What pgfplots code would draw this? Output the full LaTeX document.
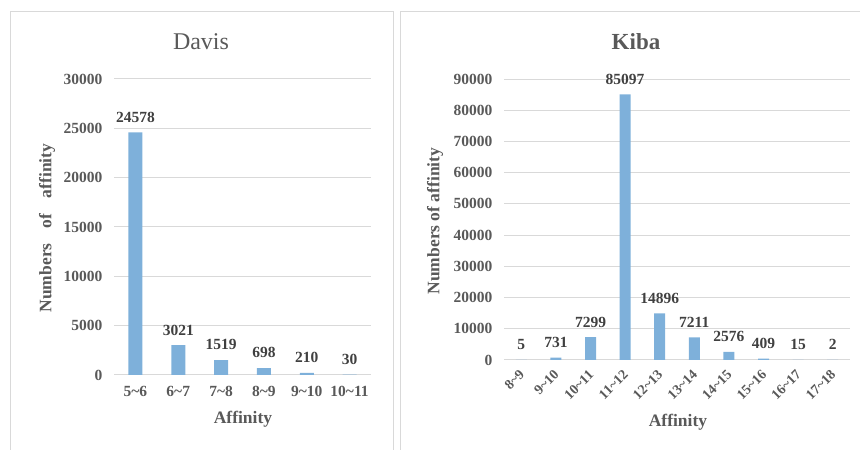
\documentclass[border=0pt]{standalone}
\usepackage{pgfplots}
\pgfplotsset{compat=1.18}
\usepackage{fontspec}
\setmainfont{Liberation Serif}
\definecolor{txt}{HTML}{595959}
\definecolor{val}{HTML}{404040}
\definecolor{grd}{HTML}{D9D9D9}
\definecolor{barblue}{RGB}{126,176,218}
\newcommand{\tl}{\fontsize{15.5}{18}\selectfont\bfseries}
\newcommand{\lab}{\fontsize{17.5}{20}\selectfont\bfseries}
\newcommand{\tld}{\textasciitilde}

\pgfplotsset{panel/.style={
  scale only axis, anchor=south west,
  ybar, clip=false,
  axis line style={draw=none}, major tick length=0pt,
  ymajorgrids, grid style={grd, line width=1pt},
  ymin=0, scaled y ticks=false,
  /pgf/number format/assume math mode=true,
  /pgf/number format/1000 sep={},
  ticklabel style={font=\tl, text=txt},
  yticklabel style={xshift=-8pt},
  xtick=data,
  nodes near coords,
  every node near coord/.append style={font=\tl, text=val, yshift=6.5pt},
}}

\begin{document}
\begin{tikzpicture}
\path[use as bounding box] (0pt,0pt) rectangle (860pt,450pt);
\draw[grd, line width=1pt] (10pt,-10pt) -- (10pt,438pt) -- (393pt,438pt) -- (393pt,-10pt);
\draw[grd, line width=1pt] (400pt,-10pt) -- (400pt,438pt) -- (860pt,438pt);

% Davis
\begin{axis}[panel,
  at={(114pt,75pt)}, width=257pt, height=296pt,
  bar width=14pt,
  xmin=-0.5, xmax=5.5, ymax=30000,
  ytick={0,5000,...,30000},
  xticklabels={5\tld6,6\tld7,7\tld8,8\tld9,9\tld10,10\tld11},
  xticklabel style={yshift=-8pt},
]
\addplot[fill=barblue, draw=none] coordinates {
  (0,24578) (1,3021) (2,1519) (3,698) (4,210) (5,30)
};
\end{axis}

% Kiba
\begin{axis}[panel,
  at={(504pt,90pt)}, width=346pt, height=281pt,
  bar width=11pt,
  xmin=-0.5, xmax=9.5, ymax=90000,
  ytick={0,10000,...,90000},
  xticklabels={8\tld9,9\tld10,10\tld11,11\tld12,12\tld13,13\tld14,14\tld15,15\tld16,16\tld17,17\tld18},
  xticklabel style={font=\fontsize{14}{16}\selectfont\bfseries,
    xshift=3pt, yshift=-10pt, rotate=45, anchor=east},
]
\addplot[fill=barblue, draw=none] coordinates {
  (0,5) (1,731) (2,7299) (3,85097) (4,14896)
  (5,7211) (6,2576) (7,409) (8,15) (9,2)
};
\end{axis}

\node[text=txt, font=\fontsize{24}{28}\selectfont] at (201pt,408pt) {Davis};
\node[text=txt, font=\fontsize{23}{27}\selectfont\bfseries] at (636pt,408pt) {Kiba};
\node[text=txt, font=\lab, rotate=90] at (47pt,222pt) {Numbers\hspace{11pt} of\hspace{11pt} affinity};
\node[text=txt, font=\lab, rotate=90] at (435pt,229pt) {Numbers of affinity};
\node[text=txt, font=\lab] at (243pt,31pt) {Affinity};
\node[text=txt, font=\lab] at (678pt,28pt) {Affinity};
\end{tikzpicture}
\end{document}
